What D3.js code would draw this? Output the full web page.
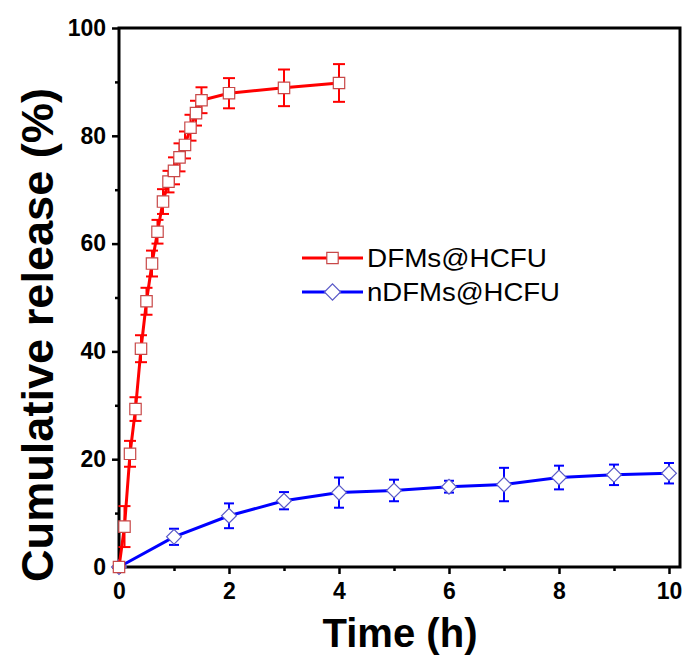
<!DOCTYPE html>
<html>
<head>
<meta charset="utf-8">
<script src="https://cdn.jsdelivr.net/npm/d3@7"></script>
<style>
  html, body { margin: 0; padding: 0; background: #fff; }
  svg { display: block; }
</style>
</head>
<body>
<script>
// ---------- data ----------
const dfmTime  = [0, 0.1, 0.2, 0.3, 0.4, 0.5, 0.6, 0.7, 0.8, 0.9, 1.0, 1.1, 1.2, 1.3, 1.4, 1.5, 2, 3, 4];
const dfmValue = [0, 7.5, 21.0, 29.3, 40.5, 49.3, 56.3, 62.2, 67.8, 71.5, 73.5, 76.0, 78.3, 81.5, 84.2, 86.6, 87.9, 88.9, 89.8];
const dfmError = [0, 3.8, 2.4, 2.2, 2.5, 2.5, 2.4, 2.2, 2.3, 2.0, 2.5, 2.6, 2.5, 2.4, 2.3, 2.4, 2.8, 3.4, 3.5];

const ndfmTime  = [0, 1, 2, 3, 4, 5, 6, 7, 8, 9, 10];
const ndfmValue = [0, 5.6, 9.5, 12.3, 13.8, 14.2, 14.9, 15.3, 16.6, 17.1, 17.4];
const ndfmError = [0, 1.5, 2.3, 1.6, 2.8, 2.0, 1.1, 3.1, 2.2, 1.9, 1.9];

const xTicks = [0, 2, 4, 6, 8, 10];
const xMinor = [1, 3, 5, 7, 9];
const yTicks = [0, 20, 40, 60, 80, 100];
const yMinor = [10, 30, 50, 70, 90];

const seriesNames = ["DFMs@HCFU", "nDFMs@HCFU"];
const xTitle = "Time (h)";
const yTitle = "Cumulative release (%)";

// ---------- layout ----------
const W = 690, H = 658;
const pLeft = 119, pTop = 28, pRight = 680, pBottom = 567;

const svg = d3.select("body").append("svg").attr("width", W).attr("height", H);

const x = d3.scaleLinear().domain([0, 10.2]).range([pLeft, pRight]);
const y = d3.scaleLinear().domain([0, 100]).range([pBottom, pTop]);

const font = "'Liberation Sans', Arial, sans-serif";

// ---------- axes ----------
const xAxis = svg.append("g").attr("transform", `translate(0,${pBottom})`)
  .call(d3.axisBottom(x).tickValues(xTicks).tickSize(7).tickPadding(6).tickFormat(d3.format("d")));
const xAxisMinor = svg.append("g").attr("transform", `translate(0,${pBottom})`)
  .call(d3.axisBottom(x).tickValues(xMinor).tickSize(4).tickFormat(""));
const yAxis = svg.append("g").attr("transform", `translate(${pLeft},0)`)
  .call(d3.axisLeft(y).tickValues(yTicks).tickSize(7).tickPadding(5).tickFormat(d3.format("d")));
const yAxisMinor = svg.append("g").attr("transform", `translate(${pLeft},0)`)
  .call(d3.axisLeft(y).tickValues(yMinor).tickSize(4).tickFormat(""));

[xAxis, xAxisMinor, yAxis, yAxisMinor].forEach(g => {
  g.select(".domain").remove();
  g.selectAll(".tick line").attr("stroke", "#000").attr("stroke-width", 2.5);
});
xAxis.selectAll(".tick text")
  .attr("font-family", font).attr("font-weight", "bold").attr("font-size", 23)
  .attr("fill", "#000").attr("y", 32).attr("dy", null);
yAxis.selectAll(".tick text")
  .attr("font-family", font).attr("font-weight", "bold").attr("font-size", 23)
  .attr("fill", "#000").attr("x", -13);

// frame
svg.append("rect")
  .attr("x", pLeft).attr("y", pTop)
  .attr("width", pRight - pLeft).attr("height", pBottom - pTop)
  .attr("fill", "none").attr("stroke", "#000").attr("stroke-width", 3);

// titles
svg.append("text")
  .attr("x", 400).attr("y", 647)
  .attr("text-anchor", "middle")
  .attr("font-family", font).attr("font-weight", "bold").attr("font-size", 40)
  .attr("textLength", 155).attr("lengthAdjust", "spacingAndGlyphs")
  .text(xTitle);

svg.append("text")
  .attr("transform", `translate(53,335) rotate(-90)`)
  .attr("text-anchor", "middle")
  .attr("font-family", font).attr("font-weight", "bold").attr("font-size", 45)
  .attr("textLength", 494).attr("lengthAdjust", "spacingAndGlyphs")
  .text(yTitle);

// ---------- series ----------
const red = "#ff0000", blue = "#0000ff";
const redMarkStroke = "#c84848", blueMarkStroke = "#5a5ac8";

const dfm = dfmTime.map((t, i) => ({ t, v: dfmValue[i], e: dfmError[i] }));
const ndfm = ndfmTime.map((t, i) => ({ t, v: ndfmValue[i], e: ndfmError[i] }));

const line = d3.line().x(d => x(d.t)).y(d => y(d.v));

function drawSeries(data, color, capW, markStroke, shape) {
  const g = svg.append("g");
  g.append("path").datum(data).attr("d", line)
    .attr("fill", "none").attr("stroke", color).attr("stroke-width", 3);
  const eb = g.append("g").selectAll("g").data(data.filter(d => d.e > 0)).join("g")
    .attr("stroke", color).attr("stroke-width", 2);
  eb.append("line").attr("x1", d => x(d.t)).attr("x2", d => x(d.t))
    .attr("y1", d => y(d.v - d.e)).attr("y2", d => y(d.v + d.e));
  eb.append("line").attr("x1", d => x(d.t) - capW / 2).attr("x2", d => x(d.t) + capW / 2)
    .attr("y1", d => y(d.v + d.e)).attr("y2", d => y(d.v + d.e));
  eb.append("line").attr("x1", d => x(d.t) - capW / 2).attr("x2", d => x(d.t) + capW / 2)
    .attr("y1", d => y(d.v - d.e)).attr("y2", d => y(d.v - d.e));
  const sym = d3.symbol().type(shape.type).size(shape.size);
  g.append("g").selectAll("path").data(data).join("path")
    .attr("transform", d => `translate(${x(d.t)},${y(d.v)})${shape.rot ? " rotate(45)" : ""}`)
    .attr("d", sym)
    .attr("fill", "#fff").attr("stroke", markStroke).attr("stroke-width", 1.2);
}

drawSeries(ndfm, blue, 10, blueMarkStroke, { type: d3.symbolSquare, size: 110, rot: true });
drawSeries(dfm, red, 12, redMarkStroke, { type: d3.symbolSquare, size: 130, rot: false });

// ---------- legend ----------
const legend = [
  { name: seriesNames[0], color: red, stroke: redMarkStroke, ly: 258, shape: { type: d3.symbolSquare, size: 130, rot: false }, len: 180 },
  { name: seriesNames[1], color: blue, stroke: blueMarkStroke, ly: 292, shape: { type: d3.symbolSquare, size: 130, rot: true }, len: 193 }
];
legend.forEach(l => {
  svg.append("line").attr("x1", 302).attr("x2", 363).attr("y1", l.ly).attr("y2", l.ly)
    .attr("stroke", l.color).attr("stroke-width", 3);
  svg.append("path")
    .attr("transform", `translate(332.5,${l.ly})${l.shape.rot ? " rotate(45)" : ""}`)
    .attr("d", d3.symbol().type(l.shape.type).size(l.shape.size))
    .attr("fill", "#fff").attr("stroke", l.stroke).attr("stroke-width", 1.2);
  svg.append("text")
    .attr("x", 367).attr("y", l.ly + 9)
    .attr("font-family", font).attr("font-size", 25).attr("fill", "#000")
    .attr("textLength", l.len).attr("lengthAdjust", "spacingAndGlyphs")
    .text(l.name);
});
</script>
</body>
</html>
